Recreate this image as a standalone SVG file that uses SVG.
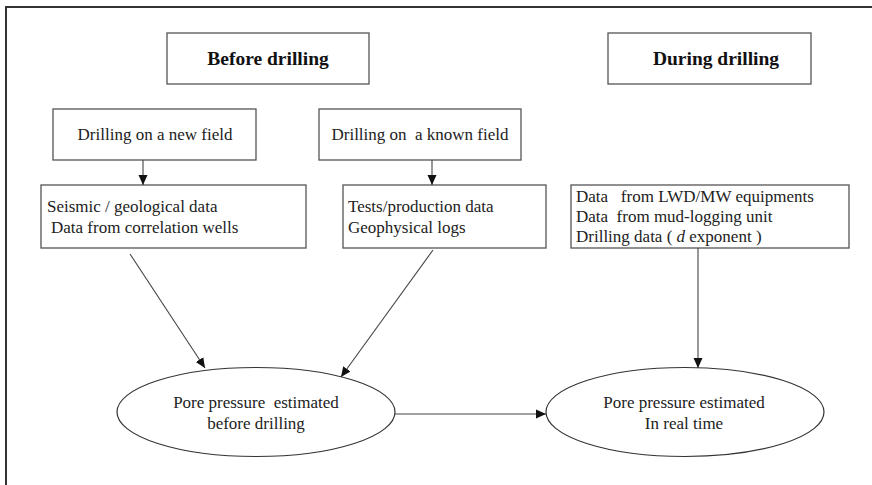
<svg xmlns="http://www.w3.org/2000/svg" width="872" height="485" viewBox="0 0 872 485">
<style>
.box{fill:#fff;stroke:#555;stroke-width:1.3}
.ell{fill:#fff;stroke:#333;stroke-width:1.2}
.t{font-family:'Liberation Serif',serif;font-size:17px;fill:#222}
.h{font-family:'Liberation Serif',serif;font-size:19.5px;font-weight:bold;fill:#111}
.c{text-anchor:middle}
.ln{stroke:#444;stroke-width:1.1;fill:none}
</style>
<defs>
<marker id="ah" viewBox="0 0 10 10" refX="10" refY="5" markerWidth="10" markerHeight="11" markerUnits="userSpaceOnUse" orient="auto">
<path d="M0,0.5 L10,5 L0,9.5 z" fill="#111"/>
</marker>
</defs>
<path d="M6,485 L6,7 L872,7" fill="none" stroke="#333" stroke-width="2"/>
<g id="before"><rect class="box" x="167" y="33" width="202" height="51"/><text class="h c" x="268" y="65">Before drilling</text></g>
<g id="during"><rect class="box" x="608" y="33" width="203" height="51"/><text class="h c" x="716" y="65">During drilling</text></g>
<g id="newfield"><rect class="box" x="53" y="109" width="203" height="51"/><text class="t c" x="155" y="140">Drilling on a new field</text></g>
<g id="knownfield"><rect class="box" x="319" y="109" width="202" height="51"/><text class="t c" x="420" y="140">Drilling on&#160; a known field</text></g>
<g id="seismic"><rect class="box" x="41" y="185" width="265" height="63"/><text class="t" x="47" y="212">Seismic / geological data</text><text class="t" x="51" y="233">Data from correlation wells</text></g>
<g id="tests"><rect class="box" x="343" y="185" width="203" height="63"/><text class="t" x="348" y="212">Tests/production data</text><text class="t" x="348" y="233">Geophysical logs</text></g>
<g id="realdata"><rect class="box" x="571" y="185" width="278" height="63"/><text class="t" x="576" y="202">Data&#160;&#160; from LWD/MW equipments</text><text class="t" x="576" y="222">Data&#160; from mud-logging unit</text><text class="t" x="576" y="242">Drilling data ( <tspan font-style="italic">d</tspan> exponent )</text></g>
<g id="ppbefore"><ellipse class="ell" cx="256" cy="412" rx="139" ry="44.5"/><text class="t c" x="256" y="408">Pore pressure&#160; estimated</text><text class="t c" x="256" y="429">before drilling</text></g>
<g id="ppreal"><ellipse class="ell" cx="685" cy="412" rx="139" ry="44.5"/><text class="t c" x="684" y="408">Pore pressure estimated</text><text class="t c" x="684" y="429">In real time</text></g>
<g id="connectors" class="ln" marker-end="url(#ah)">
<line x1="143" y1="160" x2="143" y2="185"/>
<line x1="432" y1="160" x2="432" y2="185"/>
<line x1="130" y1="254" x2="205" y2="368"/>
<line x1="433" y1="250" x2="341" y2="377"/>
<line x1="698" y1="248" x2="698" y2="368"/>
<line x1="395" y1="414" x2="546" y2="414"/>
</g>
</svg>
